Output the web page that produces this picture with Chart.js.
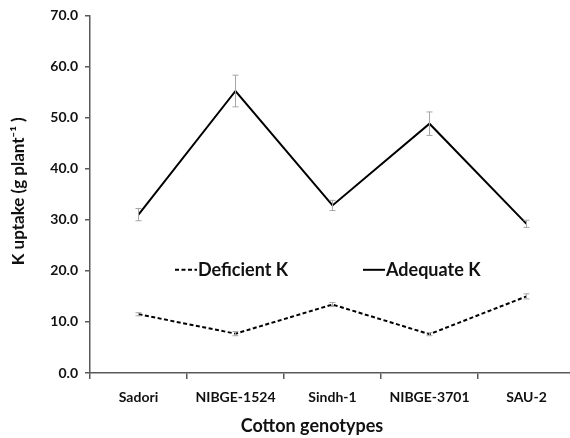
<!DOCTYPE html>
<html>
<head>
<meta charset="utf-8">
<script src="https://cdn.jsdelivr.net/npm/chart.js@4.4.1/dist/chart.umd.min.js"></script>
<style>
  html, body { margin: 0; padding: 0; background: #fff; overflow: hidden; }
  #wrap { width: 580px; height: 438px; }
</style>
</head>
<body>
<div id="wrap"><canvas id="chart" width="580" height="438"></canvas></div>
<script>
// Data
const genotypes = ['Sadori', 'NIBGE-1524', 'Sindh-1', 'NIBGE-3701', 'SAU-2'];
const deficientK = [11.5, 7.7, 13.4, 7.6, 15.0];
const deficientErr = [0.3, 0.4, 0.4, 0.3, 0.5];
const adequateK = [31.0, 55.2, 32.8, 48.8, 29.2];
const adequateErr = [1.2, 3.1, 1.0, 2.3, 0.7];
const yTicks = [0, 10, 20, 30, 40, 50, 60, 70];

const FONT = 'Lato, "Open Sans", "Liberation Sans", sans-serif';
const TEXT = '#111';
const AXIS = '#595959';

// gray error bars with small caps, drawn through the y scale
const errorBars = {
  id: 'errorBars',
  afterDatasetsDraw(chart) {
    const ctx = chart.ctx;
    const yScale = chart.scales.y;
    ctx.save();
    ctx.strokeStyle = '#a6a6a6';
    ctx.lineWidth = 1;
    chart.data.datasets.forEach((ds, di) => {
      const meta = chart.getDatasetMeta(di);
      meta.data.forEach((pt, i) => {
        const v = ds.data[i], e = ds.errors[i];
        const top = yScale.getPixelForValue(v + e);
        const bot = yScale.getPixelForValue(v - e);
        ctx.beginPath();
        ctx.moveTo(pt.x, top); ctx.lineTo(pt.x, bot);
        ctx.moveTo(pt.x - 3, top); ctx.lineTo(pt.x + 3, top);
        ctx.moveTo(pt.x - 3, bot); ctx.lineTo(pt.x + 3, bot);
        ctx.stroke();
      });
    });
    ctx.restore();
  }
};

// legend sits inside the plot, plus the two axis titles
const extras = {
  id: 'extras',
  afterDraw(chart) {
    const ctx = chart.ctx;
    const area = chart.chartArea;
    const yScale = chart.scales.y;
    ctx.save();
    ctx.fillStyle = TEXT;
    ctx.strokeStyle = '#000';
    ctx.textBaseline = 'middle';
    ctx.font = 'bold 18px ' + FONT;
    const ly = yScale.getPixelForValue(20.2);
    const items = [
      { ds: chart.data.datasets[0], x: 175 },
      { ds: chart.data.datasets[1], x: 363 }
    ];
    items.forEach(it => {
      ctx.lineWidth = 2;
      ctx.setLineDash(it.ds.borderDash || []);
      ctx.beginPath();
      ctx.moveTo(it.x, ly); ctx.lineTo(it.x + 22, ly);
      ctx.stroke();
      ctx.setLineDash([]);
      ctx.textAlign = 'left';
      ctx.fillText(it.ds.label, it.x + 23, ly);
    });

    // x title
    ctx.font = 'bold 18px ' + FONT;
    ctx.textAlign = 'center';
    ctx.fillText('Cotton genotypes', 312, 426);

    // y title
    ctx.font = 'bold 17px ' + FONT;
    ctx.translate(19, (area.top + area.bottom) / 2 - 3);
    ctx.rotate(-Math.PI / 2);
    ctx.fillText('K uptake (g plant\u207B\u00B9 )', 0, 0);
    ctx.restore();
  }
};

new Chart(document.getElementById('chart'), {
  type: 'line',
  data: {
    labels: genotypes,
    datasets: [
      {
        label: 'Deficient K',
        data: deficientK,
        errors: deficientErr,
        borderColor: '#000',
        borderWidth: 2,
        borderDash: [4, 2.5],
        pointRadius: 0,
        tension: 0
      },
      {
        label: 'Adequate K',
        data: adequateK,
        errors: adequateErr,
        borderColor: '#000',
        borderWidth: 2,
        pointRadius: 0,
        tension: 0
      }
    ]
  },
  options: {
    responsive: false,
    animation: false,
    layout: { padding: { top: 15, right: 5, left: 0, bottom: 0 } },
    plugins: {
      legend: { display: false },
      tooltip: { enabled: false }
    },
    scales: {
      x: {
        offset: true,
        grid: { offset: true, drawOnChartArea: false, drawTicks: true, tickLength: 6, color: AXIS, lineWidth: 1.5 },
        border: { color: AXIS, width: 1.5 },
        ticks: { color: TEXT, font: { family: FONT, size: 14, weight: 'bold' }, padding: 10, maxRotation: 0 },
        afterFit(scale) { scale.height = 65; }
      },
      y: {
        min: 0,
        max: 70,
        afterBuildTicks(scale) { scale.ticks = yTicks.map(v => ({ value: v })); },
        grid: { drawOnChartArea: false, drawTicks: true, tickLength: 5, color: AXIS, lineWidth: 1.5 },
        border: { color: AXIS, width: 1.5 },
        ticks: {
          color: TEXT,
          font: { family: FONT, size: 14, weight: 'bold' },
          padding: 7,
          callback: v => Number(v).toFixed(1)
        },
        afterFit(scale) { scale.width = 90; }
      }
    }
  },
  plugins: [errorBars, extras]
});
</script>
</body>
</html>
